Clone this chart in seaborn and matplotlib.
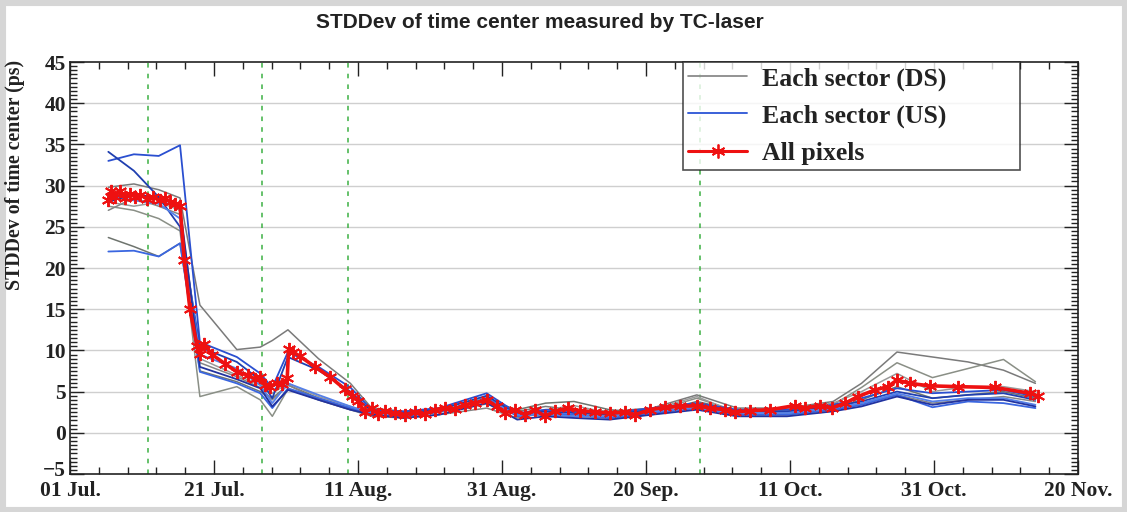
import numpy as np
import pandas as pd
import matplotlib
matplotlib.use("Agg")
import matplotlib.pyplot as plt
import matplotlib.transforms as mtransforms
from matplotlib.ticker import MultipleLocator, FixedLocator
from matplotlib.lines import Line2D
from matplotlib.patches import Rectangle
import seaborn as sns

# ---------------- data (days since 01 Jul) ----------------
tick_labels = ["01 Jul.", "21 Jul.", "11 Aug.", "31 Aug.", "20 Sep.", "11 Oct.", "31 Oct.", "20 Nov."]
x_max = 142.0
marker_days = [11.0, 27.0, 39.2, 88.7]

all_days = [5.4, 5.8, 6.3, 7.0, 7.7, 8.5, 9.2, 9.9, 10.8, 11.7, 12.7, 13.4, 14.1, 14.8, 15.5,
            16.1, 16.9, 17.9, 18.3, 18.9, 20.0, 21.8, 23.5, 25.1, 26.1, 26.8, 27.5, 28.2, 29.2,
            29.9, 30.6, 30.8, 31.4, 32.4, 34.5, 36.6, 38.7, 39.7, 40.6, 41.5, 42.5, 43.4, 44.4,
            45.8, 47.2, 48.6, 50.0, 51.4, 52.8, 54.2, 55.6, 57.0, 58.7, 60.1, 61.3, 62.7, 64.1,
            65.5, 66.9, 68.3, 70.1, 71.8, 73.9, 76.1, 78.2, 79.6, 81.7, 83.8, 85.9, 88.3, 90.1,
            92.3, 93.7, 95.8, 98.6, 102.1, 103.5, 105.6, 107.3, 109.2, 111.0, 113.4, 115.2,
            116.5, 118.3, 121.1, 125.1, 130.3, 135.2, 136.3]
all_vals = [28.3, 29.3, 28.6, 29.4, 28.5, 29.0, 28.6, 28.9, 28.4, 28.6, 28.2, 28.5, 28.0, 27.8, 27.5,
            21.0, 15.0, 10.5, 9.6, 10.8, 9.5, 8.4, 7.4, 7.0, 6.5, 6.8, 5.8, 5.6, 6.1,
            5.9, 6.6, 10.2, 9.8, 9.3, 8.0, 6.8, 5.3, 4.5, 3.9, 2.5, 3.0, 2.3, 2.6,
            2.4, 2.2, 2.5, 2.3, 2.8, 3.0, 2.9, 3.4, 3.6, 4.0, 3.2, 2.4, 2.8, 2.2,
            2.8, 2.0, 2.6, 3.0, 2.7, 2.5, 2.4, 2.5, 2.2, 2.8, 3.1, 3.2, 3.3, 3.0,
            2.8, 2.5, 2.7, 2.8, 3.3, 3.0, 3.3, 3.0, 3.6, 4.4, 5.2, 5.6,
            6.4, 6.0, 5.7, 5.6, 5.5, 4.8, 4.5]

sector_days = [5.4, 9.0, 12.5, 15.5, 18.3, 23.5, 26.8, 28.5, 30.7, 35.0, 39.5, 42.5, 47.0, 52.0,
               58.7, 63.0, 67.0, 71.0, 76.0, 82.0, 88.3, 94.0, 101.0, 107.5, 111.5, 116.5,
               121.5, 126.5, 131.5, 136.0]

ds1 = [29.8, 30.2, 29.5, 28.5, 15.5, 10.1, 10.4, 11.2, 12.5, 9.0, 6.0, 3.0, 2.6, 2.8, 3.8, 2.6, 3.2, 2.8, 2.6, 3.0, 4.6, 3.0, 3.0, 3.8, 6.0, 9.8, 9.2, 8.6, 7.6, 6.0]
ds2 = [27.5, 27.0, 26.0, 24.5, 4.4, 5.6, 4.0, 2.0, 5.3, 4.0, 2.8, 2.2, 2.0, 2.5, 3.5, 2.4, 2.0, 2.2, 2.0, 2.6, 4.2, 2.6, 2.6, 3.4, 5.5, 8.5, 6.7, 7.8, 8.9, 6.2]
ds3 = [23.7, 22.6, 21.4, 23.0, 7.5, 6.2, 5.0, 4.2, 5.8, 4.2, 3.0, 2.5, 2.2, 2.6, 4.0, 2.8, 3.6, 3.8, 2.8, 2.4, 3.8, 2.7, 2.4, 3.0, 4.0, 5.6, 4.2, 4.6, 5.0, 4.2]
ds4 = [28.0, 27.5, 28.0, 27.0, 9.0, 7.0, 5.8, 4.8, 6.0, 4.4, 3.2, 2.4, 2.4, 3.0, 4.3, 2.2, 2.8, 3.3, 2.4, 2.8, 4.4, 2.4, 2.8, 3.6, 5.0, 7.2, 5.0, 5.6, 5.6, 5.0]
ds5 = [27.0, 28.5, 27.5, 26.5, 8.5, 6.8, 5.5, 4.0, 5.8, 4.0, 2.8, 2.0, 1.8, 2.2, 3.0, 1.8, 2.4, 2.0, 1.8, 2.2, 3.2, 2.2, 2.2, 2.8, 3.6, 4.6, 3.6, 4.0, 4.4, 3.8]

us1 = [33.0, 33.8, 33.6, 34.9, 11.0, 9.2, 7.2, 5.5, 9.8, 8.0, 5.5, 2.8, 2.6, 3.0, 4.8, 2.4, 2.8, 2.6, 2.4, 3.0, 3.6, 2.8, 2.8, 3.4, 4.2, 5.4, 4.8, 5.0, 5.2, 4.4]
us2 = [34.1, 31.8, 28.6, 25.0, 10.4, 8.6, 6.4, 4.2, 9.2, 7.6, 5.0, 2.6, 2.4, 2.8, 4.5, 2.2, 2.6, 2.4, 2.2, 2.8, 3.4, 2.6, 2.6, 3.2, 3.8, 5.0, 4.2, 4.6, 4.8, 4.0]
us3 = [22.0, 22.1, 21.4, 23.0, 7.4, 6.0, 4.8, 3.0, 5.4, 4.2, 3.0, 2.2, 2.0, 2.5, 4.2, 2.0, 2.4, 2.2, 1.8, 2.4, 3.0, 2.2, 2.2, 2.8, 3.4, 4.6, 3.1, 3.8, 3.6, 3.0]
us4 = [28.8, 28.2, 27.8, 26.0, 9.5, 7.8, 5.8, 3.6, 6.0, 4.6, 3.2, 2.4, 2.2, 2.6, 4.0, 2.2, 2.2, 2.0, 2.0, 2.6, 3.0, 2.4, 2.4, 3.0, 3.6, 4.8, 3.8, 4.2, 4.2, 3.4]
us5 = [28.0, 29.0, 28.5, 27.5, 8.0, 6.5, 5.4, 3.2, 5.2, 4.0, 2.8, 2.2, 1.8, 2.2, 3.6, 1.6, 2.0, 1.8, 1.6, 2.2, 2.8, 2.0, 2.0, 2.6, 3.2, 4.4, 3.4, 4.0, 4.0, 3.2]

ds_series = {"DS1": ds1, "DS2": ds2, "DS3": ds3, "DS4": ds4, "DS5": ds5}
us_series = {"US1": us1, "US2": us2, "US3": us3, "US4": us4, "US5": us5}

rows = []
for name, vals in ds_series.items():
    for d, v in zip(sector_days, vals):
        rows.append({"day": d, "val": v, "sector": name, "side": "DS"})
for name, vals in us_series.items():
    for d, v in zip(sector_days, vals):
        rows.append({"day": d, "val": v, "sector": name, "side": "US"})
df_sec = pd.DataFrame(rows)
df_all = pd.DataFrame({"day": all_days, "val": all_vals})

# ---------------- figure ----------------
sns.set_theme(style="white")
serif = ["Liberation Serif", "DejaVu Serif"]
plt.rcParams["font.family"] = serif

W, H = 1127, 512
fig = plt.figure(figsize=(W / 100, H / 100), dpi=100)
fig.patch.set_facecolor("white")
ax = fig.add_axes([70 / W, (H - 474) / H, 1008 / W, 412 / H])

# horizontal grid
for yv in range(0, 45, 5):
    ax.axhline(yv, color="#cfcfcf", lw=1.0, zorder=0)

gray_cols = ["#7a7a7a", "#8a8f86", "#6e746e", "#9a9a9a", "#858585"]
blue_cols = ["#2a4fd0", "#1f3fb0", "#3a66e0", "#5580e8", "#2233a0"]
pal = {}
for i, n in enumerate(ds_series):
    pal[n] = gray_cols[i]
for i, n in enumerate(us_series):
    pal[n] = blue_cols[i]

sns.lineplot(data=df_sec[df_sec.side == "DS"], x="day", y="val", hue="sector", palette=pal,
             units="sector", estimator=None, lw=1.1, ax=ax, legend=False, zorder=2)
sns.lineplot(data=df_sec[df_sec.side == "US"], x="day", y="val", hue="sector", palette=pal,
             units="sector", estimator=None, lw=1.3, ax=ax, legend=False, zorder=3)
sns.lineplot(data=df_all, x="day", y="val", color="#ee1111", lw=2.6, marker=(6, 2, 0),
             markersize=9.5, markeredgewidth=1.4, markeredgecolor="#ee1111",
             estimator=None, ax=ax, legend=False, zorder=5)

for d in marker_days:
    ax.axvline(d, color="#3cb043", lw=1.1, ls=(0, (3, 4)), zorder=1)

ax.set_xlim(0, x_max)
ax.set_ylim(-5, 45)
xt = np.linspace(0, x_max, len(tick_labels))
ax.xaxis.set_major_locator(FixedLocator(xt))
ax.xaxis.set_minor_locator(FixedLocator(np.linspace(0, x_max, 5 * (len(tick_labels) - 1) + 1)))
ax.set_xticklabels(tick_labels)
ax.yaxis.set_major_locator(MultipleLocator(5))
ax.yaxis.set_minor_locator(MultipleLocator(0.5))

ax.tick_params(which="both", direction="in", top=True, right=True, bottom=True, left=True,
               colors="#222222", width=1.0)
ax.tick_params(which="major", length=10)
ax.tick_params(which="minor", length=5)
ax.tick_params(axis="x", which="major", pad=5)
ax.tick_params(axis="y", which="major", pad=3)
for lab in ax.get_xticklabels() + ax.get_yticklabels():
    lab.set_fontfamily(serif)
    lab.set_fontweight("bold")
    lab.set_fontsize(15.5)
    lab.set_color("#222222")
for s in ax.spines.values():
    s.set_color("#222222")
    s.set_linewidth(1.2)
ax.set_xlabel("")
ax.set_ylabel("")

# nudge the lowest y label up a little so it does not collide with the first date label
fig.canvas.draw()
for lab in ax.get_yticklabels():
    if lab.get_text().replace("\u2212", "-") == "-5":
        lab.set_transform(lab.get_transform() + mtransforms.ScaledTranslation(0, 6 / 100, fig.dpi_scale_trans))

fig.text(15 / W, 1 - 60 / H, "STDDev of time center (ps)", rotation=90, va="top", ha="center",
         fontsize=14.3, fontweight="bold", family=serif, color="#222222")
fig.text(540 / W, 1 - 23 / H, "STDDev of time center measured by TC-laser", ha="center", va="center",
         fontsize=15, fontweight="bold", family=["Liberation Sans", "DejaVu Sans"], color="#222222")

handles = [Line2D([], [], color="#808080", lw=1.2),
           Line2D([], [], color="#3a60d8", lw=1.4),
           Line2D([], [], color="#ee1111", lw=2.2, marker=(6, 2, 0), markersize=10, markeredgewidth=1.3)]
leg = ax.legend(handles, ["Each sector (DS)", "Each sector (US)", "All pixels"],
                loc="upper left", bbox_to_anchor=(0.608, 0.743, 0.3345, 0.257), mode="expand",
                prop={"family": serif, "weight": "bold", "size": 18.5},
                handlelength=2.3, handletextpad=0.58, labelspacing=0.54, borderpad=0.2,
                fancybox=False, shadow=False, frameon=True, borderaxespad=0)
leg.get_frame().set_edgecolor("#222222")
leg.get_frame().set_linewidth(1.2)
leg.set_zorder(10)
for t in leg.get_texts():
    t.set_color("#222222")

fig.patches.append(Rectangle((0, 0), 1, 1, transform=fig.transFigure, fill=False,
                             edgecolor="#d6d6d6", lw=8, zorder=-1))

fig.savefig("out.png", dpi=100, facecolor="white")
